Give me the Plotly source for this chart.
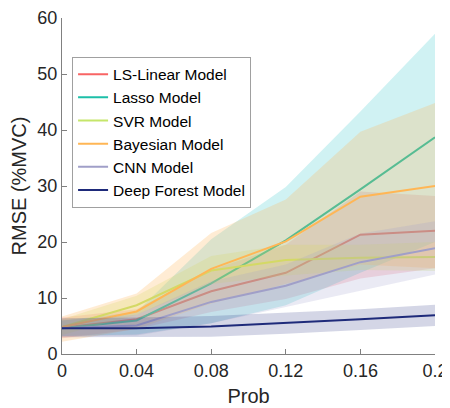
import plotly.graph_objects as go

prob = [0, 0.04, 0.08, 0.12, 0.16, 0.2]
tick_vals = [0, 0.04, 0.08, 0.12, 0.16, 0.2]
tick_text = ["0", "0.04", "0.08", "0.12", "0.16", "0.2"]

models = ["LS-Linear Model", "Lasso Model", "SVR Model", "Bayesian Model", "CNN Model", "Deep Forest Model"]

ls_mean = [4.7, 6.2, 11.2, 14.5, 21.3, 22.0]
ls_low = [2.8, 4.4, 7.5, 9.8, 13.5, 15.3]
ls_up = [6.5, 8.0, 15.0, 19.5, 29.0, 28.2]

lasso_mean = [4.6, 6.0, 12.6, 20.3, 29.4, 38.7]
lasso_low = [3.2, 3.5, 5.5, 8.7, 14.5, 20.0]
lasso_up = [6.0, 7.5, 20.5, 29.8, 43.3, 57.2]

svr_mean = [4.8, 8.7, 14.9, 16.8, 17.2, 17.3]
svr_low = [3.4, 7.0, 12.5, 14.0, 15.0, 14.8]
svr_up = [6.2, 10.4, 17.5, 19.5, 19.5, 20.0]

bay_mean = [4.8, 7.6, 15.2, 20.1, 28.1, 30.0]
bay_low = [2.2, 4.5, 9.0, 12.5, 16.0, 15.3]
bay_up = [6.7, 10.8, 21.6, 27.6, 39.7, 44.8]

cnn_mean = [4.6, 5.1, 9.3, 12.2, 16.4, 18.9]
cnn_low = [3.2, 3.3, 5.5, 8.5, 11.3, 14.2]
cnn_up = [6.0, 7.0, 13.0, 16.0, 21.5, 23.7]

df_mean = [4.6, 4.6, 4.9, 5.5, 6.2, 6.9]
df_low = [3.0, 3.0, 3.1, 3.6, 4.3, 5.0]
df_up = [6.4, 6.5, 6.8, 7.4, 8.0, 8.8]

line_colors = ["#f86464", "#1dbfa8", "#c5e66a", "#ffb655", "#a09fc8", "#1e2a7a"]
band_colors = ["rgba(240,100,120,0.22)", "rgba(40,195,200,0.22)", "rgba(200,225,100,0.24)",
               "rgba(255,180,90,0.26)", "rgba(160,160,205,0.22)", "rgba(40,50,130,0.2)"]

means = [ls_mean, lasso_mean, svr_mean, bay_mean, cnn_mean, df_mean]
lows = [ls_low, lasso_low, svr_low, bay_low, cnn_low, df_low]
ups = [ls_up, lasso_up, svr_up, bay_up, cnn_up, df_up]

fig = go.Figure()
for name, m, lo, up, lc, bc in zip(models, means, lows, ups, line_colors, band_colors):
    fig.add_trace(go.Scatter(
        x=prob + prob[::-1], y=up + lo[::-1], fill="toself", fillcolor=bc,
        line=dict(width=0), mode="lines", hoverinfo="skip", showlegend=False))
    fig.add_trace(go.Scatter(x=prob, y=m, mode="lines", name=name,
                             line=dict(color=lc, width=2)))

# page body adds an 8px offset, so the figure is sized/margined to compensate
fig.update_layout(
    width=442, height=400,
    margin=dict(l=54, r=15, t=10, b=54),
    paper_bgcolor="white", plot_bgcolor="white",
    font=dict(family="Liberation Sans, Arial, sans-serif", color="#262626"),
    legend=dict(x=0.027, y=0.885, xanchor="left", yanchor="top",
                bgcolor="white", bordercolor="#a0a0a0", borderwidth=1,
                font=dict(size=15.5, color="#000000"), itemwidth=30,
                tracegroupgap=0),
    xaxis=dict(range=[0, 0.2], tickvals=tick_vals, ticktext=tick_text,
               showgrid=False, zeroline=False, showline=True, linecolor="#808080",
               linewidth=1, ticks="inside", ticklen=5, tickcolor="#808080",
               automargin=False, ticklabeloverflow="allow",
               tickfont=dict(size=18), title=dict(text="Prob", font=dict(size=20), standoff=9)),
    yaxis=dict(range=[0, 60], tickvals=[0, 10, 20, 30, 40, 50, 60],
               showgrid=False, zeroline=False, showline=True, linecolor="#808080",
               linewidth=1, ticks="inside", ticklen=5, tickcolor="#808080",
               automargin=False, ticklabeloverflow="allow",
               tickfont=dict(size=18), title=dict(text="RMSE (%MVC)", font=dict(size=20), standoff=8)),
)

fig.write_html("out.html")
